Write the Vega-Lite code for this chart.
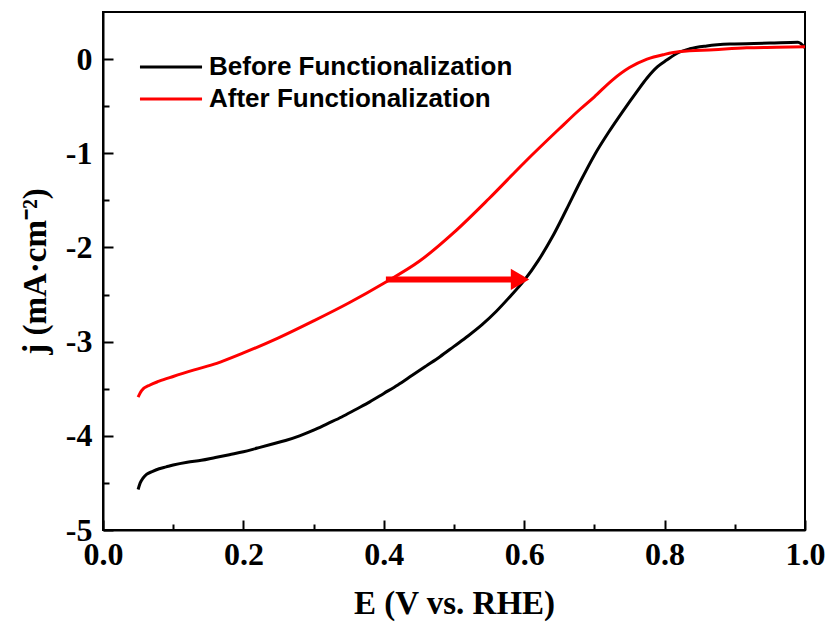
{
  "$schema": "https://vega.github.io/schema/vega-lite/v6.json",
  "width": 702,
  "height": 518,
  "autosize": {"type": "none"},
  "padding": {"left": 103, "top": 12, "right": 24, "bottom": 95},
  "background": "white",
  "config": {
    "view": {"stroke": "black", "strokeWidth": 2},
    "axis": {
      "grid": false,
      "domainColor": "black",
      "domainWidth": 2,
      "tickColor": "black",
      "tickWidth": 2,
      "labelFont": "Liberation Serif",
      "labelFontWeight": "bold",
      "labelFontSize": 32,
      "labelColor": "black",
      "titleFont": "Liberation Serif",
      "titleFontWeight": "bold",
      "titleFontSize": 33,
      "titleColor": "black"
    }
  },
  "datasets": {
    "curves": [
      {"E": 0.05, "j": -4.57, "s": "Before Functionalization"},
      {"E": 0.053, "j": -4.5, "s": "Before Functionalization"},
      {"E": 0.057, "j": -4.45, "s": "Before Functionalization"},
      {"E": 0.062, "j": -4.41, "s": "Before Functionalization"},
      {"E": 0.07, "j": -4.38, "s": "Before Functionalization"},
      {"E": 0.08, "j": -4.35, "s": "Before Functionalization"},
      {"E": 0.09, "j": -4.33, "s": "Before Functionalization"},
      {"E": 0.1, "j": -4.31, "s": "Before Functionalization"},
      {"E": 0.12, "j": -4.28, "s": "Before Functionalization"},
      {"E": 0.14, "j": -4.26, "s": "Before Functionalization"},
      {"E": 0.16, "j": -4.23, "s": "Before Functionalization"},
      {"E": 0.18, "j": -4.2, "s": "Before Functionalization"},
      {"E": 0.2, "j": -4.17, "s": "Before Functionalization"},
      {"E": 0.22, "j": -4.13, "s": "Before Functionalization"},
      {"E": 0.24, "j": -4.09, "s": "Before Functionalization"},
      {"E": 0.26, "j": -4.05, "s": "Before Functionalization"},
      {"E": 0.28, "j": -4.0, "s": "Before Functionalization"},
      {"E": 0.3, "j": -3.94, "s": "Before Functionalization"},
      {"E": 0.32, "j": -3.87, "s": "Before Functionalization"},
      {"E": 0.34, "j": -3.8, "s": "Before Functionalization"},
      {"E": 0.36, "j": -3.72, "s": "Before Functionalization"},
      {"E": 0.38, "j": -3.64, "s": "Before Functionalization"},
      {"E": 0.4, "j": -3.55, "s": "Before Functionalization"},
      {"E": 0.42, "j": -3.46, "s": "Before Functionalization"},
      {"E": 0.44, "j": -3.36, "s": "Before Functionalization"},
      {"E": 0.46, "j": -3.26, "s": "Before Functionalization"},
      {"E": 0.48, "j": -3.16, "s": "Before Functionalization"},
      {"E": 0.5, "j": -3.05, "s": "Before Functionalization"},
      {"E": 0.52, "j": -2.94, "s": "Before Functionalization"},
      {"E": 0.54, "j": -2.82, "s": "Before Functionalization"},
      {"E": 0.56, "j": -2.68, "s": "Before Functionalization"},
      {"E": 0.58, "j": -2.52, "s": "Before Functionalization"},
      {"E": 0.6, "j": -2.35, "s": "Before Functionalization"},
      {"E": 0.62, "j": -2.14, "s": "Before Functionalization"},
      {"E": 0.64, "j": -1.89, "s": "Before Functionalization"},
      {"E": 0.66, "j": -1.6, "s": "Before Functionalization"},
      {"E": 0.68, "j": -1.3, "s": "Before Functionalization"},
      {"E": 0.7, "j": -1.02, "s": "Before Functionalization"},
      {"E": 0.72, "j": -0.78, "s": "Before Functionalization"},
      {"E": 0.74, "j": -0.56, "s": "Before Functionalization"},
      {"E": 0.76, "j": -0.35, "s": "Before Functionalization"},
      {"E": 0.775, "j": -0.2, "s": "Before Functionalization"},
      {"E": 0.79, "j": -0.08, "s": "Before Functionalization"},
      {"E": 0.803, "j": -0.01, "s": "Before Functionalization"},
      {"E": 0.82, "j": 0.07, "s": "Before Functionalization"},
      {"E": 0.836, "j": 0.11, "s": "Before Functionalization"},
      {"E": 0.86, "j": 0.14, "s": "Before Functionalization"},
      {"E": 0.893, "j": 0.16, "s": "Before Functionalization"},
      {"E": 0.95, "j": 0.17, "s": "Before Functionalization"},
      {"E": 0.99, "j": 0.18, "s": "Before Functionalization"},
      {"E": 1.0, "j": 0.12, "s": "Before Functionalization"},
      {"E": 0.05, "j": -3.59, "s": "After Functionalization"},
      {"E": 0.055, "j": -3.52, "s": "After Functionalization"},
      {"E": 0.067, "j": -3.46, "s": "After Functionalization"},
      {"E": 0.08, "j": -3.42, "s": "After Functionalization"},
      {"E": 0.1, "j": -3.37, "s": "After Functionalization"},
      {"E": 0.13, "j": -3.3, "s": "After Functionalization"},
      {"E": 0.162, "j": -3.23, "s": "After Functionalization"},
      {"E": 0.2, "j": -3.12, "s": "After Functionalization"},
      {"E": 0.25, "j": -2.96, "s": "After Functionalization"},
      {"E": 0.3, "j": -2.78, "s": "After Functionalization"},
      {"E": 0.35, "j": -2.59, "s": "After Functionalization"},
      {"E": 0.4, "j": -2.38, "s": "After Functionalization"},
      {"E": 0.45, "j": -2.15, "s": "After Functionalization"},
      {"E": 0.5, "j": -1.84, "s": "After Functionalization"},
      {"E": 0.55, "j": -1.48, "s": "After Functionalization"},
      {"E": 0.6, "j": -1.1, "s": "After Functionalization"},
      {"E": 0.65, "j": -0.74, "s": "After Functionalization"},
      {"E": 0.68, "j": -0.53, "s": "After Functionalization"},
      {"E": 0.7, "j": -0.4, "s": "After Functionalization"},
      {"E": 0.726, "j": -0.22, "s": "After Functionalization"},
      {"E": 0.75, "j": -0.09, "s": "After Functionalization"},
      {"E": 0.775, "j": 0.0, "s": "After Functionalization"},
      {"E": 0.8, "j": 0.05, "s": "After Functionalization"},
      {"E": 0.822, "j": 0.08, "s": "After Functionalization"},
      {"E": 0.87, "j": 0.1, "s": "After Functionalization"},
      {"E": 0.917, "j": 0.12, "s": "After Functionalization"},
      {"E": 0.96, "j": 0.125, "s": "After Functionalization"},
      {"E": 1.0, "j": 0.13, "s": "After Functionalization"}
    ],
    "arrow": [
      {"E": 0.403, "E2": 0.594, "j": -2.34}
    ]
  },
  "layer": [
    {
      "data": {"name": "curves"},
      "mark": {"type": "line", "strokeWidth": 3, "interpolate": "monotone"},
      "encoding": {
        "x": {
          "field": "E", "type": "quantitative",
          "scale": {"domain": [0, 1], "nice": false},
          "axis": {
            "title": "E (V vs. RHE)",
            "values": [0, 0.1, 0.2, 0.3, 0.4, 0.5, 0.6, 0.7, 0.8, 0.9, 1.0],
            "labelExpr": "round(datum.value*10) % 2 == 0 ? format(datum.value, '.1f') : ''",
            "tickSize": {"condition": {"test": "round(datum.value*10) % 2 == 0", "value": -10}, "value": -6},
            "labelPadding": 19,
            "labelFlush": false,
            "titlePadding": 17
          }
        },
        "y": {
          "field": "j", "type": "quantitative",
          "scale": {"domain": [-5, 0.5], "nice": false},
          "axis": {
            "title": "j (mA·cm⁻²)",
            "values": [-5, -4.5, -4, -3.5, -3, -2.5, -2, -1.5, -1, -0.5, 0],
            "labelExpr": "round(datum.value*2) % 2 == 0 ? '' + datum.value : ''",
            "tickSize": {"condition": {"test": "round(datum.value*2) % 2 == 0", "value": -10}, "value": -6},
            "labelPadding": 21,
            "labelFlush": false,
            "titlePadding": 13
          }
        },
        "color": {
          "field": "s", "type": "nominal",
          "scale": {"domain": ["Before Functionalization", "After Functionalization"], "range": ["#000000", "#ff0000"]},
          "legend": {
            "title": null,
            "orient": "none",
            "legendX": 55,
            "legendY": 42,
            "padding": 0,
            "symbolType": "M-3,0H3",
            "symbolSize": 428,
            "symbolStrokeWidth": 3,
            "labelFont": "Liberation Sans",
            "labelFontWeight": "bold",
            "labelFontSize": 26,
            "labelColor": "black",
            "labelLimit": 500,
            "labelOffset": 25,
            "rowPadding": 6
          }
        }
      }
    },
    {
      "data": {"name": "arrow"},
      "mark": {"type": "rule", "color": "#ff0000", "strokeWidth": 6},
      "encoding": {
        "x": {"field": "E", "type": "quantitative"},
        "x2": {"field": "E2"},
        "y": {"field": "j", "type": "quantitative"}
      }
    },
    {
      "data": {"name": "arrow"},
      "mark": {"type": "point", "shape": "triangle-right", "filled": true, "color": "#ff0000", "size": 450, "opacity": 1},
      "encoding": {
        "x": {"field": "E2", "type": "quantitative"},
        "y": {"field": "j", "type": "quantitative"}
      }
    }
  ]
}
